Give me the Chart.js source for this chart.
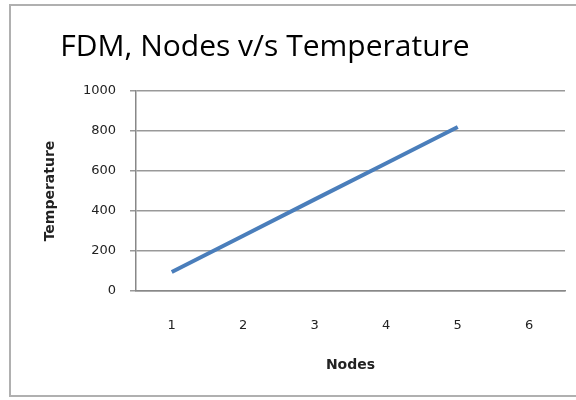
<!DOCTYPE html>
<html>
<head>
<meta charset="utf-8">
<script src="https://cdn.jsdelivr.net/npm/chart.js@4/dist/chart.umd.min.js"></script>
<style>
  html, body { margin: 0; padding: 0; background: #fff; }
  #wrap { position: relative; width: 576px; height: 400px; overflow: hidden; }
  #frame { position: absolute; left: 9px; top: 4px; width: 600px; height: 393px; border: 2px solid #b0b0b0; box-sizing: border-box; }
  canvas { position: absolute; left: 0; top: 0; }
</style>
</head>
<body>
<div id="wrap">
  <div id="frame"></div>
  <canvas id="c" width="576" height="400"></canvas>
</div>
<script>
const chartTitle = "FDM, Nodes v/s Temperature";
const nodes = ["1", "2", "3", "4", "5", "6"];
const temperature = [95, 276, 458, 639, 820, null];
const xTitle = "Nodes";
const yTitle = "Temperature";

const titlePlugin = {
  id: 'bigTitle',
  afterDraw(chart) {
    const ctx = chart.ctx;
    ctx.save();
    ctx.font = '30px "Open Sans"';
    ctx.fillStyle = '#000';
    ctx.textAlign = 'center';
    ctx.textBaseline = 'alphabetic';
    ctx.fillText(chartTitle, 265, 56);
    ctx.restore();
  }
};

new Chart(document.getElementById('c'), {
  type: 'line',
  data: {
    labels: nodes,
    datasets: [{
      data: temperature,
      borderColor: '#4a7ebb',
      borderWidth: 4,
      pointRadius: 0,
      tension: 0,
      fill: false
    }]
  },
  options: {
    responsive: false,
    animation: false,
    layout: { padding: { top: 91, right: 11, bottom: 0, left: 0 } },
    plugins: { legend: { display: false }, tooltip: { enabled: false }, title: { display: false } },
    scales: {
      x: {
        offset: true,
        grid: { display: false, drawTicks: false },
        border: { display: true, color: '#888', width: 1.5 },
        ticks: { color: '#222', font: { family: 'DejaVu Sans', size: 13 }, padding: 27, maxRotation: 0 },
        title: { display: true, text: xTitle, color: '#222', font: { family: 'DejaVu Sans', size: 14, weight: 'bold' }, padding: { top: 0, bottom: 26 } },
        afterFit(s) { s.height = 109; }
      },
      y: {
        min: 0, max: 1000,
        ticks: { stepSize: 200, color: '#222', font: { family: 'DejaVu Sans', size: 13 }, padding: 14, callback: v => String(v) },
        grid: { color: '#999', lineWidth: 1.5, tickLength: 6, drawTicks: true },
        border: { display: true, color: '#888', width: 1.5 },
        title: { display: true, text: yTitle, color: '#222', font: { family: 'DejaVu Sans', size: 14, weight: 'bold' }, padding: { top: 42, bottom: 0 } },
        afterFit(s) { s.width = 136; }
      }
    }
  },
  plugins: [titlePlugin]
});
</script>
</body>
</html>
